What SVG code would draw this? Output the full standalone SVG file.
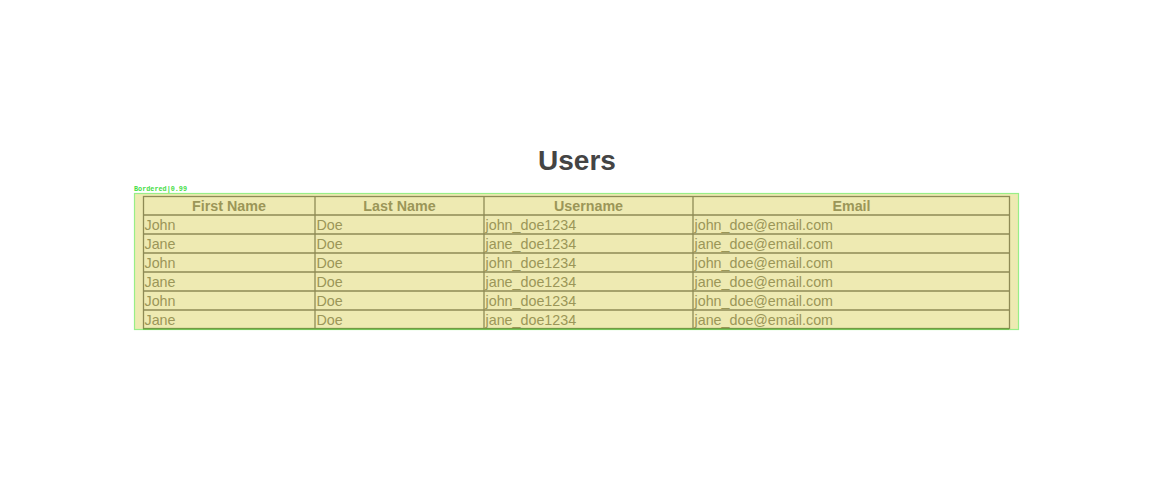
<svg xmlns="http://www.w3.org/2000/svg" width="1162" height="486" viewBox="0 0 1162 486">
<style>
.t{font-family:"Liberation Sans",Arial,sans-serif;font-size:14.3px;fill:#9b9658}
.h{font-weight:bold;text-anchor:middle}
.g{stroke:#8e8a55;stroke-width:1.3;fill:none}
</style>
<rect width="1162" height="486" fill="#ffffff"/>
<text x="577" y="170" font-family="Liberation Sans,Arial,sans-serif" font-size="28" font-weight="bold" fill="#444444" text-anchor="middle">Users</text>
<g id="table">
<rect x="134.5" y="193.5" width="884" height="136" fill="#eeeab2" stroke="#99ee88" stroke-width="1.2"/>
<text x="134" y="191" font-family="Liberation Mono,monospace" font-size="6.8" font-weight="bold" fill="#44dd44">Bordered|0.99</text>
<g class="g">
<rect x="143.5" y="196.5" width="866" height="132"/>
<line x1="315" y1="196.5" x2="315" y2="328.5"/>
<line x1="484" y1="196.5" x2="484" y2="328.5"/>
<line x1="693" y1="196.5" x2="693" y2="328.5"/>
<line x1="143.5" y1="215" x2="1009.5" y2="215"/>
<line x1="143.5" y1="234" x2="1009.5" y2="234"/>
<line x1="143.5" y1="253" x2="1009.5" y2="253"/>
<line x1="143.5" y1="272" x2="1009.5" y2="272"/>
<line x1="143.5" y1="291" x2="1009.5" y2="291"/>
<line x1="143.5" y1="310" x2="1009.5" y2="310"/>
</g>
<line x1="143" y1="329" x2="1009" y2="329" stroke="#55aa33" stroke-width="1"/>
<g class="t h">
<text x="229" y="211">First Name</text>
<text x="399.5" y="211">Last Name</text>
<text x="588.5" y="211">Username</text>
<text x="851.5" y="211">Email</text>
</g>
<g class="t">
<text x="144.5" y="230">John</text><text x="316.5" y="230">Doe</text><text x="485.5" y="230">john_doe1234</text><text x="694.5" y="230">john_doe@email.com</text>
<text x="144.5" y="249">Jane</text><text x="316.5" y="249">Doe</text><text x="485.5" y="249">jane_doe1234</text><text x="694.5" y="249">jane_doe@email.com</text>
<text x="144.5" y="268">John</text><text x="316.5" y="268">Doe</text><text x="485.5" y="268">john_doe1234</text><text x="694.5" y="268">john_doe@email.com</text>
<text x="144.5" y="287">Jane</text><text x="316.5" y="287">Doe</text><text x="485.5" y="287">jane_doe1234</text><text x="694.5" y="287">jane_doe@email.com</text>
<text x="144.5" y="306">John</text><text x="316.5" y="306">Doe</text><text x="485.5" y="306">john_doe1234</text><text x="694.5" y="306">john_doe@email.com</text>
<text x="144.5" y="325">Jane</text><text x="316.5" y="325">Doe</text><text x="485.5" y="325">jane_doe1234</text><text x="694.5" y="325">jane_doe@email.com</text>
</g>
</g>
</svg>
